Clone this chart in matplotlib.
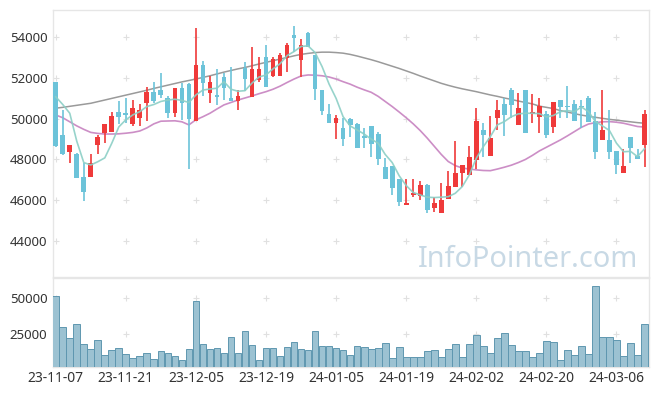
import numpy as np
import matplotlib
matplotlib.use('Agg')
import matplotlib.pyplot as plt

plt.rcParams['font.family'] = ['Noto Sans', 'DejaVu Sans']

# 일봉 데이터 (23-11-07 ~ 24-03-12), 그림에서 읽은 값
opens = [51800, 49200, 48380, 48270, 47160, 47160, 48730, 49320, 49370, 50330,
         50240, 49730, 50020, 50790, 51330, 51410, 51000, 50300, 51500, 51690,
         49900, 52640, 51280, 51130, 52040, 51030, 50890, 52510, 51080, 51900,
         53020, 52100, 52100, 53000, 54110, 52890, 54200, 53130, 51410, 50220,
         49810, 49530, 49980, 49730, 49160, 49650, 49250, 47650, 47680, 47030,
         45770, 46260, 46210, 46750, 45610, 45360, 46050, 46640, 47320, 47240,
         47980, 49450, 48190, 50020, 50730, 51410, 49700, 51410, 50220, 50100,
         50240, 49610, 50920, 50640, 50730, 50620, 51030, 49890, 48960, 48960,
         48430, 47320, 49090, 48170, 48710]
highs = [51800, 50430, 48710, 48300, 47840, 48260, 49200, 49750, 50320, 50890,
         51000, 50920, 50710, 51570, 51820, 52230, 51120, 51500, 51740, 51740,
         54440, 52840, 52100, 52430, 52230, 52560, 51410, 52800, 53510, 53020,
         53620, 53050, 53220, 53700, 54560, 53900, 54250, 53130, 51410, 50730,
         50190, 50020, 50050, 49810, 49560, 49650, 49370, 48060, 47690, 47040,
         47030, 47030, 46950, 46800, 46180, 46830, 47450, 48930, 47750, 48680,
         50520, 49800, 50140, 50920, 51000, 51500, 51280, 51410, 51200, 51000,
         50400, 50840, 50930, 51600, 50920, 50920, 51120, 50350, 51410, 50430,
         48440, 48500, 49100, 48500, 50430]
lows = [48600, 48220, 47810, 47080, 45960, 47160, 48260, 48800, 49370, 49730,
        49810, 49650, 49650, 49890, 50760, 51000, 50020, 50100, 49940, 47520,
        49900, 51120, 50760, 50680, 50920, 50880, 50430, 51360, 51080, 51820,
        51570, 52040, 52090, 52310, 53290, 52040, 53500, 50920, 50190, 49800,
        48990, 48660, 49120, 48550, 48550, 48140, 47730, 47040, 46260, 45730,
        45760, 46180, 46010, 45360, 45440, 45360, 46040, 46630, 46660, 47230,
        47520, 48140, 48180, 49450, 49160, 50020, 49690, 49310, 49810, 49320,
        49040, 49320, 50020, 50020, 49900, 49530, 49850, 48010, 48950, 48010,
        47280, 47320, 47810, 48000, 47650]
closes = [48650, 48260, 48710, 47110, 46420, 47810, 49090, 49730, 50140, 50100,
          50200, 50510, 50430, 51300, 50870, 51170, 50300, 51500, 50790, 49990,
          52640, 51770, 51820, 51090, 51500, 50890, 51120, 51940, 52430, 52430,
          51570, 52920, 53130, 53620, 53980, 53620, 53510, 51460, 50400, 49810,
          50050, 48990, 49700, 48550, 49070, 48750, 48030, 47040, 46590, 45930,
          45850, 46370, 46750, 45520, 45880, 46010, 46700, 47320, 47730, 48110,
          49890, 49200, 49070, 50430, 50190, 50680, 50520, 49320, 50320, 50630,
          49200, 50840, 50590, 50590, 49910, 50580, 49860, 48380, 49450, 48380,
          47730, 47680, 48550, 48010, 50240]
volume = [51600, 29700, 22700, 32000, 18500, 15000, 21300, 10800, 14300, 15700,
          11500, 8700, 10100, 12200, 8000, 13100, 12200, 9600, 7300, 14500,
          48100, 18500, 15000, 15700, 12200, 23400, 12200, 27600, 17800, 7300,
          15700, 15700, 10100, 16400, 19900, 15000, 13800, 27600, 17100, 17100,
          15700, 13800, 10800, 17100, 16400, 14500, 15700, 19200, 8700, 16400,
          9400, 9400, 9400, 13600, 14300, 9400, 15000, 18500, 9400, 18500,
          24800, 17100, 12200, 22700, 26200, 17800, 13600, 13600, 9400, 12200,
          20600, 19900, 7300, 14300, 10800, 17100, 11500, 58400, 23400, 23400,
          21300, 10100, 19200, 10800, 31800]

# 이동평균선
ma5 = [51080, 50700, 50270, 48900, 47850, 47730, 47890, 48080, 48800, 49600,
       49950, 50190, 50350, 50600, 50700, 50850, 50920, 50960, 50900, 50800,
       51170, 51410, 51460, 51500, 51820, 51450, 51350, 51380, 51750, 52050,
       52150, 52450, 52700, 53100, 53300, 53550, 53580, 53250, 52560, 51700,
       51000, 50100, 49650, 49450, 49250, 49000, 48800, 48250, 47850, 47200,
       46720, 46380, 46260, 46150, 46130, 46150, 46175, 46340, 46670, 47240,
       48060, 48630, 49120, 49700, 49860, 50100, 50240, 50270, 50270, 50250,
       50090, 50160, 50350, 50400, 50350, 50580, 50350, 49860, 49650, 49420,
       48800, 48380, 48400, 48140, 48530]
ma20 = [50185, 50050, 49850, 49650, 49480, 49330, 49280, 49250, 49250, 49260,
        49290, 49330, 49400, 49550, 49750, 49880, 49890, 49900, 49850, 49700,
        49950, 50100, 50270, 50480, 50680, 50800, 50920, 51020, 51120, 51230,
        51330, 51450, 51600, 51780, 51950, 52100, 52150, 52140, 52110, 52050,
        51950, 51820, 51700, 51550, 51420, 51300, 51100, 50850, 50600, 50330,
        50050, 49750, 49420, 49050, 48650, 48250, 47900, 47700, 47580, 47530,
        47490, 47460, 47450, 47530, 47620, 47720, 47850, 48000, 48200, 48420,
        48600, 48780, 48960, 49160, 49370, 49580, 49740, 49810, 49850, 49860,
        49830, 49780, 49700, 49620, 49590]
ma60 = [50520, 50560, 50610, 50660, 50710, 50760, 50840, 50920, 51000, 51080,
        51160, 51240, 51320, 51400, 51490, 51570, 51650, 51730, 51810, 51880,
        51950, 52030, 52110, 52200, 52290, 52370, 52450, 52520, 52600, 52690,
        52770, 52850, 52930, 53010, 53090, 53160, 53210, 53250, 53270, 53270,
        53250, 53220, 53160, 53080, 52990, 52900, 52800, 52690, 52580, 52470,
        52350, 52230, 52100, 51980, 51860, 51740, 51640, 51550, 51470, 51400,
        51330, 51250, 51170, 51100, 51020, 50950, 50870, 50800, 50730, 50620,
        50560, 50500, 50400, 50330, 50250, 50180, 50120, 50070, 50020, 49970,
        49930, 49890, 49850, 49810, 49780]

tick_labels = ['23-11-07', '23-11-21', '23-12-05', '23-12-19', '24-01-05',
               '24-01-19', '24-02-02', '24-02-20', '24-03-06']
price_ticks = [44000, 46000, 48000, 50000, 52000, 54000]
vol_ticks = [25000, 50000]

UP = '#ef3a3a'
DOWN = '#6cc3d9'
EDGE = '#e6e6e6'

o = np.array(opens)
c = np.array(closes)
x = np.arange(len(o))
up = c >= o
colors = np.where(up, UP, DOWN)

fig = plt.figure(figsize=(6.57, 3.96), dpi=100)
W, H = 657, 396
ax = fig.add_axes([53 / W, (H - 277) / H, 596 / W, 267 / H])
axv = fig.add_axes([53 / W, (H - 367) / H, 596 / W, 89 / H])

# 워터마크
ax.text(0.797, 0.039, 'InfoPointer.com', transform=ax.transAxes, ha='center',
        va='baseline', fontsize=20.8, color='#c8d9e5', zorder=0)

# 캔들
ax.vlines(x, lows, highs, colors=colors, linewidth=1.2, zorder=3)
body_h = np.maximum(np.abs(c - o), 60)
ax.bar(x, body_h, bottom=np.minimum(o, c), width=0.68, color=colors,
       linewidth=0, zorder=4)

ax.plot(x, ma60, color='#9a9a9a', lw=1.1, zorder=2)
ax.plot(x, ma20, color='#cc8ec6', lw=1.2, zorder=2)
ax.plot(x, ma5, color='#8ccfc6', lw=1.2, alpha=0.9, zorder=5)

ax.set_xlim(-0.39, 84.64)
ax.set_ylim(42230, 55340)
ax.set_yticks(price_ticks)
ax.set_yticklabels([str(t) for t in price_ticks])
ax.set_xticks([])

# 거래량
axv.bar(x, volume, width=0.96, color='#9cc2d2', edgecolor='#5f97b0',
        linewidth=0.7, zorder=3)
axv.set_xlim(-0.39, 84.64)
axv.set_ylim(2300, 64000)
axv.set_yticks(vol_ticks)
axv.set_yticklabels([str(t) for t in vol_ticks])
xt = np.arange(len(tick_labels)) * 10
axv.set_xticks(xt)
axv.set_xticklabels(tick_labels)

for a, yt in ((ax, price_ticks), (axv, vol_ticks)):
    for s in a.spines.values():
        s.set_color(EDGE)
        s.set_linewidth(1)
    a.tick_params(length=0, labelsize=9.5, labelcolor='#333333', pad=4)
    gx, gy = np.meshgrid(xt, yt)
    a.scatter(gx.ravel(), gy.ravel(), marker='+', s=14, color='#e0e0e0',
              linewidths=0.8, zorder=1)
axv.tick_params(axis='x', labelsize=10, pad=3)

fig.savefig('out.png', dpi=100)
